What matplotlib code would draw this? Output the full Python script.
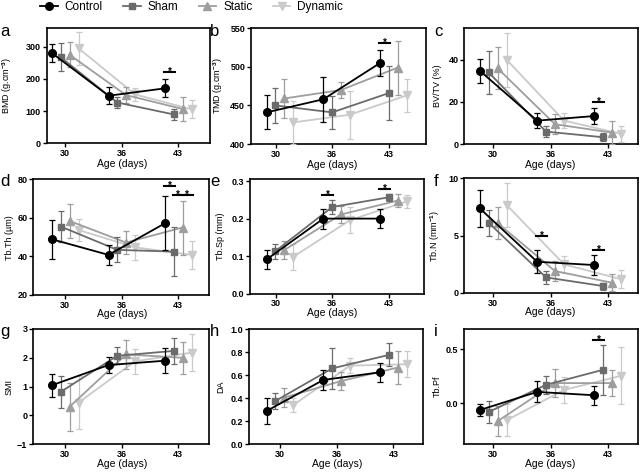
import numpy as np
import matplotlib
matplotlib.use('Agg')
import matplotlib.pyplot as plt
from matplotlib.lines import Line2D
from matplotlib.ticker import FormatStrFormatter

plt.rcParams['font.family'] = ['Liberation Sans', 'DejaVu Sans']
plt.rcParams['font.weight'] = 'bold'
plt.rcParams['mathtext.fontset'] = 'custom'
plt.rcParams['mathtext.rm'] = 'Liberation Sans:bold'
plt.rcParams['mathtext.default'] = 'rm'

ages = ['30', '36', '43']
groups = ['Control', 'Sham', 'Static', 'Dynamic']

# rows: Control, Sham, Static, Dynamic / cols: 30, 36, 43 days
bmd_mean = [[280, 148, 171], [267, 127, 90], [275, 150, 107], [295, 152, 106]]
bmd_sd = [[28, 26, 28], [43, 18, 18], [38, 25, 36], [52, 20, 28]]

tmd_mean = [[441, 458, 505], [450, 441, 466], [459, 470, 499], [428, 438, 463]]
tmd_sd = [[22, 29, 17], [23, 21, 35], [25, 11, 35], [28, 31, 21]]

bvtv_mean = [[34.8, 11.1, 13.3], [34.0, 5.9, 3.2], [36.0, 9.4, 5.4], [40.0, 11.1, 4.8]]
bvtv_sd = [[5.7, 3.4, 3.8], [10, 2.6, 2.0], [10, 4.7, 5.6], [13, 3.5, 3.8]]

tbth_mean = [[48.9, 40.8, 57.2], [55.5, 43.4, 42.5], [58.4, 47.2, 55.0], [53.7, 44.7, 40.8]]
tbth_sd = [[10, 5, 14], [8, 6.5, 12.7], [9, 6, 14], [5.8, 6.4, 7.2]]

tbsp_mean = [[0.091, 0.200, 0.200], [0.113, 0.231, 0.257], [0.116, 0.211, 0.248], [0.098, 0.196, 0.246]]
tbsp_sd = [[0.025, 0.027, 0.026], [0.020, 0.018, 0.010], [0.024, 0.023, 0.018], [0.035, 0.035, 0.018]]

tbn_mean = [[7.38, 2.71, 2.42], [6.12, 1.34, 0.58], [6.1, 1.9, 0.87], [7.67, 2.48, 1.17]]
tbn_sd = [[1.6, 1.0, 0.9], [1.15, 0.58, 0.3], [1.4, 0.9, 0.75], [1.95, 0.75, 0.8]]

smi_mean = [[1.05, 1.75, 1.9], [0.82, 2.07, 2.24], [0.3, 2.12, 2.0], [0.45, 1.88, 2.18]]
smi_sd = [[0.4, 0.27, 0.43], [0.55, 0.3, 0.46], [0.84, 0.5, 0.55], [0.93, 0.43, 0.64]]

da_mean = [[0.29, 0.56, 0.626], [0.377, 0.66, 0.777], [0.406, 0.55, 0.667], [0.342, 0.684, 0.696]]
da_sd = [[0.115, 0.087, 0.085], [0.068, 0.175, 0.1], [0.08, 0.08, 0.145], [0.058, 0.065, 0.113]]

tbpf_mean = [[-0.062, 0.106, 0.075], [-0.08, 0.172, 0.312], [-0.166, 0.188, 0.188], [-0.156, 0.125, 0.256]]
tbpf_sd = [[0.06, 0.097, 0.087], [0.1, 0.086, 0.23], [0.14, 0.13, 0.12], [0.15, 0.118, 0.265]]

# significance bars: (age index, group a, group b, y)
bmd_sig = [(2, 0, 1, 223)]
tmd_sig = [(2, 0, 1, 531)]
bvtv_sig = [(2, 0, 1, 20.2)]
tbth_sig = [(2, 0, 1, 76.6), (2, 1, 2, 71.9), (2, 2, 3, 71.9)]
tbsp_sig = [(1, 0, 1, 0.264), (2, 0, 1, 0.28)]
tbn_sig = [(1, 0, 1, 4.96), (2, 0, 1, 3.73)]
tbpf_sig = [(2, 0, 1, 0.59)]

colors = ['#000000', '#6b6b6b', '#9e9e9e', '#cacaca']
markers = ['o', 's', '^', 'v']
msizes = [5.5, 5, 5.5, 5.5]
offsets = [-0.235, -0.08, 0.075, 0.235]

W, H = 640, 475
fig = plt.figure(figsize=(W / 100, H / 100), dpi=100)

# column: tick-30 pixel, px per category, ylabel right edge px
cols = [(65.3, 56.5, 14), (280, 56.7, 225), (493.3, 57.3, 442)]
rows_xlab = [16, 14, 15]

panels = [
    # letter, row, col, left, top, right, bottom, mean, sd, sig, ylabel, ylim, yticks, fmt, tickshift
    ('a', 0, 0, 46.7, 28.3, 209.5, 143.5, bmd_mean, bmd_sd, bmd_sig,
     'BMD (g.cm$^{-3}$)', (0, 357), [0, 100, 200, 300], None, 0),
    ('b', 0, 1, 251, 28.3, 426, 144, tmd_mean, tmd_sd, tmd_sig,
     'TMD (g.cm$^{-3}$)', (400, 550), [400, 450, 500, 550], None, -0.076),
    ('c', 0, 2, 464.3, 28.3, 638.3, 144, bvtv_mean, bvtv_sd, bvtv_sig,
     'BV/TV (%)', (0, 55), [0, 20, 40], None, 0),
    ('d', 1, 0, 33.3, 179.3, 209.3, 295, tbth_mean, tbth_sd, tbth_sig,
     'Tb.Th (µm)', (20, 80), [20, 40, 60, 80], None, 0),
    ('e', 1, 1, 250, 179.3, 424, 293.5, tbsp_mean, tbsp_sd, tbsp_sig,
     'Tb.Sp (mm)', (0, 0.305), [0.0, 0.1, 0.2, 0.3], '%.1f', -0.076),
    ('f', 1, 2, 464.3, 178.5, 638.3, 292.7, tbn_mean, tbn_sd, tbn_sig,
     'Tb.N (mm$^{-1}$)', (0, 10), [0, 5, 10], None, 0),
    ('g', 2, 0, 33.3, 329, 208.5, 444.3, smi_mean, smi_sd, [],
     'SMI', (-1, 3), [-1, 0, 1, 2, 3], None, 0),
    ('h', 2, 1, 249.3, 329.3, 422.7, 444.3, da_mean, da_sd, [],
     'DA', (0, 1.0), [0.0, 0.2, 0.4, 0.6, 0.8, 1.0], '%.1f', 0),
    ('i', 2, 2, 464.3, 329, 638.3, 444.3, tbpf_mean, tbpf_sd, tbpf_sig,
     'Tb.Pf', (-0.38, 0.69), [0.0, 0.5], '%.1f', 0),
]

letter_pos = {0: 0, 1: 210, 2: 434}
letter_base = {0: 36, 1: 186, 2: 336}

for (letter, r, c, l, t, rr, b, mean, sd, sig, ylab, ylim, yticks, fmt, shift) in panels:
    ax = fig.add_axes([l / W, 1 - b / H, (rr - l) / W, (b - t) / H])
    t0, sp, ylab_px = cols[c]
    xlim = ((l - t0) / sp, (rr - t0) / sp)
    x = np.arange(len(ages))

    for g in range(len(groups) - 1, -1, -1):
        ax.errorbar(x + offsets[g], mean[g], yerr=sd[g], color=colors[g],
                    marker=markers[g], ms=msizes[g], mec=colors[g], lw=1.3,
                    elinewidth=0.9, capsize=2.5, capthick=0.9, zorder=3 + (3 - g))

    for (ai, ga, gb, yv) in sig:
        xa, xb = ai + offsets[ga], ai + offsets[gb]
        ax.plot([xa - 0.02, xb + 0.02], [yv, yv], color='black', lw=1.5, zorder=10)
        ax.annotate('*', ((xa + xb) / 2, yv), xytext=(0, -2.2), textcoords='offset points',
                    ha='center', va='baseline', fontsize=7, zorder=10)

    ax.set_xlim(xlim)
    ax.set_ylim(ylim)
    ax.set_xticks(x + shift)
    ax.set_xticklabels(ages)
    ax.set_yticks(yticks)
    if fmt:
        ax.yaxis.set_major_formatter(FormatStrFormatter(fmt))
    ax.tick_params(direction='out', length=3, width=1, labelsize=6.5, pad=1.2)
    for s in ax.spines.values():
        s.set_linewidth(1.2)

    wpx, hpx = rr - l, b - t
    ax.set_xlabel('Age (days)', fontsize=7.5)
    ax.xaxis.set_label_coords((1 + shift - xlim[0]) / (xlim[1] - xlim[0]),
                              -rows_xlab[r] / hpx)
    ax.set_ylabel(ylab, fontsize=6.5)
    ax.yaxis.set_label_coords((ylab_px - l) / wpx, 0.5)

    fig.text(letter_pos[c] / W, 1 - letter_base[r] / H, letter, fontsize=12,
             fontweight='normal', va='baseline', ha='left')

handles = [Line2D([], [], color=colors[g], marker=markers[g], ms=msizes[g], lw=1.3)
           for g in range(len(groups))]
fig.legend(handles, groups, loc='center left', bbox_to_anchor=(40 / W, 1 - 7 / H),
           ncol=4, frameon=False, prop={'size': 8.5, 'weight': 'normal'},
           handlelength=1.5, handletextpad=0.6, columnspacing=1.7,
           borderpad=0, borderaxespad=0)

fig.savefig('out.png', dpi=100)
